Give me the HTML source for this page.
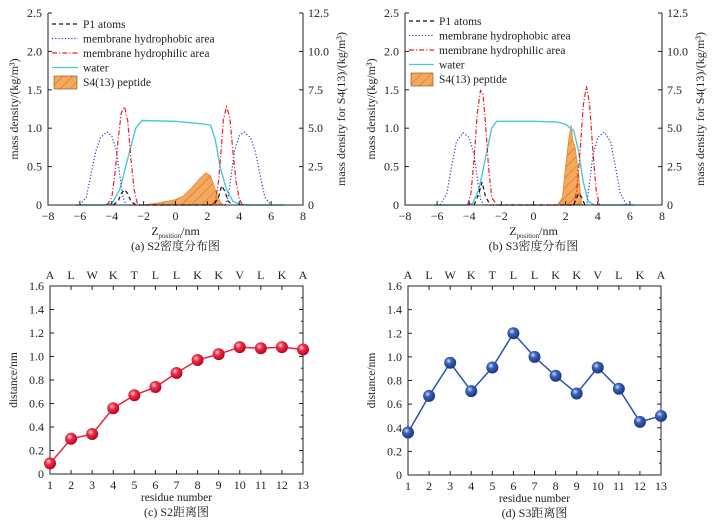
<!DOCTYPE html>
<html><head><meta charset="utf-8"><style>
body{margin:0;background:#fff}
svg{display:block;font-family:"Liberation Serif","Noto Serif CJK SC",serif}
</style></head><body>
<svg id="fig" width="718" height="525">
<defs>
<radialGradient id="gr" cx="0.38" cy="0.35" r="0.7"><stop offset="0" stop-color="#ffd0d8"/><stop offset="0.35" stop-color="#f0304a"/><stop offset="1" stop-color="#b00018"/></radialGradient>
<radialGradient id="gb" cx="0.38" cy="0.35" r="0.7"><stop offset="0" stop-color="#d0dcff"/><stop offset="0.35" stop-color="#3a62b8"/><stop offset="1" stop-color="#16307a"/></radialGradient>
<pattern id="hatch" width="7" height="7" patternUnits="userSpaceOnUse" patternTransform="rotate(45)"><rect width="7" height="7" fill="#f5a85a"/><line x1="0" y1="0" x2="0" y2="7" stroke="#7a4a20" stroke-width="0.6"/></pattern>
</defs>
</svg>
<script>
// ---- Panel (a) data ----
const aBlueZ=[-6.0,-5.6,-5.3,-5.0,-4.7,-4.3,-4.0,-3.7,-3.5,-3.3,-3.1, 3.1,3.3,3.5,3.7,4.0,4.3,4.7,5.0,5.3,5.6,6.0];
const aBlueV=[0,0.1,0.4,0.7,0.88,0.95,0.9,0.7,0.4,0.1,0, 0,0.1,0.4,0.7,0.9,0.95,0.88,0.7,0.4,0.1,0];
const aRedZ=[-4.3,-4.0,-3.8,-3.6,-3.4,-3.2,-3.0,-2.8,-2.6,-2.4,-2.2, 2.3,2.5,2.7,2.9,3.0,3.2,3.4,3.6,3.8,4.0,4.2];
const aRedV=[0,0.1,0.4,0.85,1.2,1.28,1.1,0.6,0.2,0.02,0, 0,0.05,0.3,0.8,1.1,1.28,1.15,0.7,0.3,0.08,0];
const aP1Z=[-3.9,-3.6,-3.4,-3.2,-3.0,-2.8,-2.5, 2.4,2.7,2.9,3.1,3.3,3.6];
const aP1V=[0,0.05,0.15,0.2,0.15,0.05,0, 0,0.1,0.25,0.18,0.05,0];
const aWaterZ=[-6.3,-4.5,-4.0,-3.5,-3.0,-2.5,-2.1,0,1.5,2.2,2.5,2.8,3.2,3.6,4.0,4.5,6.8];
const aWaterV=[0,0,0.02,0.2,0.6,1.0,1.1,1.09,1.06,1.04,0.85,0.5,0.2,0.05,0.01,0,0];
const aPepZ=[-2.0,-1.0,0,0.5,1.0,1.5,1.9,2.2,2.5,2.8,3.0];
const aPepV=[0,0.15,0.35,0.6,1.1,1.7,2.1,1.9,1.0,0.2,0];
// ---- Panel (b) data ----
const bBlueZ=[-5.8,-5.4,-5.1,-4.8,-4.4,-4.0,-3.7,-3.5,-3.3,-3.1, 3.3,3.5,3.7,4.0,4.4,4.8,5.1,5.4,5.8];
const bBlueV=[0,0.15,0.5,0.82,0.94,0.88,0.65,0.35,0.08,0, 0,0.3,0.65,0.88,0.95,0.82,0.5,0.15,0];
const bRedZ=[-4.1,-3.9,-3.7,-3.5,-3.3,-3.15,-3.0,-2.8,-2.6,-2.3, 2.5,2.7,2.9,3.1,3.3,3.5,3.7,3.9,4.1];
const bRedV=[0,0.15,0.6,1.2,1.49,1.45,1.1,0.5,0.1,0, 0,0.2,0.7,1.3,1.55,1.3,0.7,0.2,0];
const bP1Z=[-3.7,-3.4,-3.2,-3.0,-2.7, 2.5,2.8,3.0,3.2];
const bP1V=[0,0.15,0.3,0.12,0, 0,0.15,0.1,0];
const bWaterZ=[-6.2,-4.2,-3.8,-3.4,-3.0,-2.6,-2.3,0,1.5,2.0,2.5,2.8,3.1,3.4,3.8,6.3];
const bWaterV=[0,0,0.02,0.2,0.6,1.0,1.09,1.09,1.08,1.05,0.97,0.7,0.3,0.05,0,0];
const bPepZ=[1.5,1.8,2.0,2.2,2.35,2.45,2.6,2.8,3.0];
const bPepV=[0,0.5,2.5,4.3,5.2,4.2,3.7,2.0,0];
// ---- Distance data ----
const residues=["A","L","W","K","T","L","L","K","K","V","L","K","A"];
const xTicks=[1,2,3,4,5,6,7,8,9,10,11,12,13];
const yTicksD=[0,0.2,0.4,0.6,0.8,1.0,1.2,1.4,1.6];
const cDist=[0.09,0.30,0.34,0.56,0.67,0.74,0.86,0.97,1.02,1.08,1.07,1.08,1.06];
const dDist=[0.36,0.67,0.95,0.71,0.91,1.20,1.00,0.84,0.69,0.91,0.73,0.45,0.50];
const zTicks=[-8,-6,-4,-2,0,2,4,6,8];
const yTicksL=[0,0.5,1.0,1.5,2.0,2.5];
const yTicksR=[0,2.5,5.0,7.5,10.0,12.5];

const svg=document.getElementById('fig');
const NS='http://www.w3.org/2000/svg';
function el(tag,attrs,parent){const e=document.createElementNS(NS,tag);for(const k in attrs)e.setAttribute(k,attrs[k]);(parent||svg).appendChild(e);return e;}
function txt(s,x,y,attrs,parent){const e=el('text',Object.assign({x:x,y:y,'font-size':12,fill:'#222'},attrs||{}),parent);e.textContent=s;return e;}
function fmtL(v){return v===0?'0':v.toFixed(1);}

function densityPanel(L,R,T,B,d,cap,legX,legTextX,legY0,tag){
  const g=el('g',{});
  
  
  const X=z=>L+(z+8)/16*(R-L);
  const Y=v=>B-v/2.5*(B-T);
  const YR=v=>B-v/12.5*(B-T);
  const path=(zs,vs,yf)=>zs.map((z,i)=>(i?'L':'M')+X(z).toFixed(1)+','+yf(vs[i]).toFixed(1)).join('');
  // peptide
  const pp=el('path',{d:path(d.pepZ,d.pepV,YR)+'Z',fill:'url(#hatch)',stroke:'#e08a3a','stroke-width':0.8},g);
  
  
  const w=el('path',{d:path(d.waterZ,d.waterV,Y),fill:'none',stroke:'#4cc8d8','stroke-width':1.4},g);
  
  
  const bl=el('path',{d:path(d.blueZ,d.blueV,Y),fill:'none',stroke:'#2a3cc0','stroke-width':1.2,'stroke-dasharray':'1.2,2'},g);
  
  
  const rd=el('path',{d:path(d.redZ,d.redV,Y),fill:'none',stroke:'#e8202a','stroke-width':1.2,'stroke-dasharray':'5,2,1.2,2'},g);
  
  
  const p1=el('path',{d:path(d.p1Z,d.p1V,Y),fill:'none',stroke:'#111','stroke-width':1.2,'stroke-dasharray':'4,3'},g);
  
  
  // axes
  el('polyline',{points:`${L},${T} ${L},${B} ${R},${B} ${R},${T}`,fill:'none',stroke:'#222','stroke-width':1},g);
  zTicks.forEach(z=>{el('line',{x1:X(z),x2:X(z),y1:B,y2:B-4,stroke:'#222'},g);txt(z<0?'−'+(-z):String(z),X(z),B+15,{'text-anchor':'middle'},g);});
  yTicksL.forEach(v=>{el('line',{x1:L,x2:L+4,y1:Y(v),y2:Y(v),stroke:'#222'},g);txt(fmtL(v),L-6,Y(v)+4,{'text-anchor':'end'},g);});
  yTicksR.forEach(v=>{el('line',{x1:R,x2:R-4,y1:YR(v),y2:YR(v),stroke:'#222'},g);txt(fmtL(v),R+5,YR(v)+4,{'text-anchor':'start'},g);});
  const yt=txt('mass density/(kg/m³)',0,0,{'text-anchor':'middle',transform:`translate(${L-30},${(T+B)/2}) rotate(-90)`},g);
  
  
  const rt=txt('mass density for S4(13)/(kg/m³)',0,0,{'text-anchor':'middle',transform:`translate(${R+42},${(T+B)/2}) rotate(-90)`},g);
  
  
  const xt=el('text',{x:(L+R)/2,y:B+30,'font-size':12,'text-anchor':'middle',fill:'#222'},g);
  xt.innerHTML='Z<tspan font-size="7" dy="3">position</tspan><tspan dy="-3">/nm</tspan>';
  
  
  const c=txt(cap,(L+R)/2,B+45,{'text-anchor':'middle'},g);
  
  
  // legend
  const lg=el('g',{},g);
  
  
  const items=[['P1 atoms','#111','4,3'],['membrane hydrophobic area','#2a3cc0','1.2,2'],['membrane hydrophilic area','#e8202a','5,2,1.2,2'],['water','#4cc8d8','']];
  items.forEach((it,i)=>{const y=legY0+i*14.5;
    el('line',{x1:legX,x2:legTextX-5,y1:y,y2:y,stroke:it[1],'stroke-width':1.3,'stroke-dasharray':it[2]},lg);
    const t=txt(it[0],legTextX,y+4,{'font-size':11.5},lg);
    
    });
  const y5=legY0+4*14.5;
  el('rect',{x:legX+2,y:y5-6,width:legTextX-legX-8,height:13,fill:'url(#hatch)',stroke:'#7a4a20','stroke-width':0.6},lg);
  const t5=txt('S4(13) peptide',legTextX,y5+4,{'font-size':11.5},lg);
  
  
}

function distPanel(L,R,T,B,vals,grad,color,cap,tag){
  const g=el('g',{});
  
  
  const X=i=>L+(i-1)/12*(R-L);
  const Y=v=>B-v/1.6*(B-T);
  el('rect',{x:L,y:T,width:R-L,height:B-T,fill:'none',stroke:'#222'},g);
  xTicks.forEach((n,i)=>{el('line',{x1:X(n),x2:X(n),y1:B,y2:B-4,stroke:'#222'},g);el('line',{x1:X(n),x2:X(n),y1:T,y2:T+4,stroke:'#222'},g);
    txt(String(n),X(n),B+15,{'text-anchor':'middle'},g);
    const r=txt(residues[i],X(n),T-7,{'text-anchor':'middle'},g);
    
    });
  yTicksD.forEach(v=>{el('line',{x1:L,x2:L+4,y1:Y(v),y2:Y(v),stroke:'#222'},g);el('line',{x1:R,x2:R-4,y1:Y(v),y2:Y(v),stroke:'#222'},g);
    txt(v===0?'0':v.toFixed(1),L-6,Y(v)+4,{'text-anchor':'end'},g);});
  for(let v=0.1;v<1.6;v+=0.2){el('line',{x1:R,x2:R-2,y1:Y(v),y2:Y(v),stroke:'#222'},g);}
  const ln=el('polyline',{points:vals.map((v,i)=>X(i+1)+','+Y(v)).join(' '),fill:'none',stroke:color,'stroke-width':1.5},g);
  
  
  vals.forEach((v,i)=>{const c=el('circle',{cx:X(i+1),cy:Y(v),r:6,fill:grad},g);
    
    });
  const yt=txt('distance/nm',0,0,{'text-anchor':'middle','font-size':11.5,transform:`translate(${L-33},${(T+B)/2}) rotate(-90)`},g);
  
  
  const xt=txt('residue number',(L+R)/2,B+27,{'text-anchor':'middle','font-size':11.5},g);
  
  
  const c=txt(cap,(L+R)/2,B+42,{'text-anchor':'middle'},g);
  
  
}

densityPanel(48,303,13,205,{blueZ:aBlueZ,blueV:aBlueV,redZ:aRedZ,redV:aRedV,p1Z:aP1Z,p1V:aP1V,waterZ:aWaterZ,waterV:aWaterV,pepZ:aPepZ,pepV:aPepV},'(a) S2密度分布图',52,83,24,'a');
densityPanel(405,662,13,205,{blueZ:bBlueZ,blueV:bBlueV,redZ:bRedZ,redV:bRedV,p1Z:bP1Z,p1V:bP1V,waterZ:bWaterZ,waterV:bWaterV,pepZ:bPepZ,pepV:bPepV},'(b) S3密度分布图',409,439,21,'b');
distPanel(50,303,286,474,cDist,'url(#gr)','#e8203a','(c) S2距离图','c');
distPanel(408,661,286,475,dDist,'url(#gb)','#2a52b0','(d) S3距离图','d');
</script>
</body></html>
